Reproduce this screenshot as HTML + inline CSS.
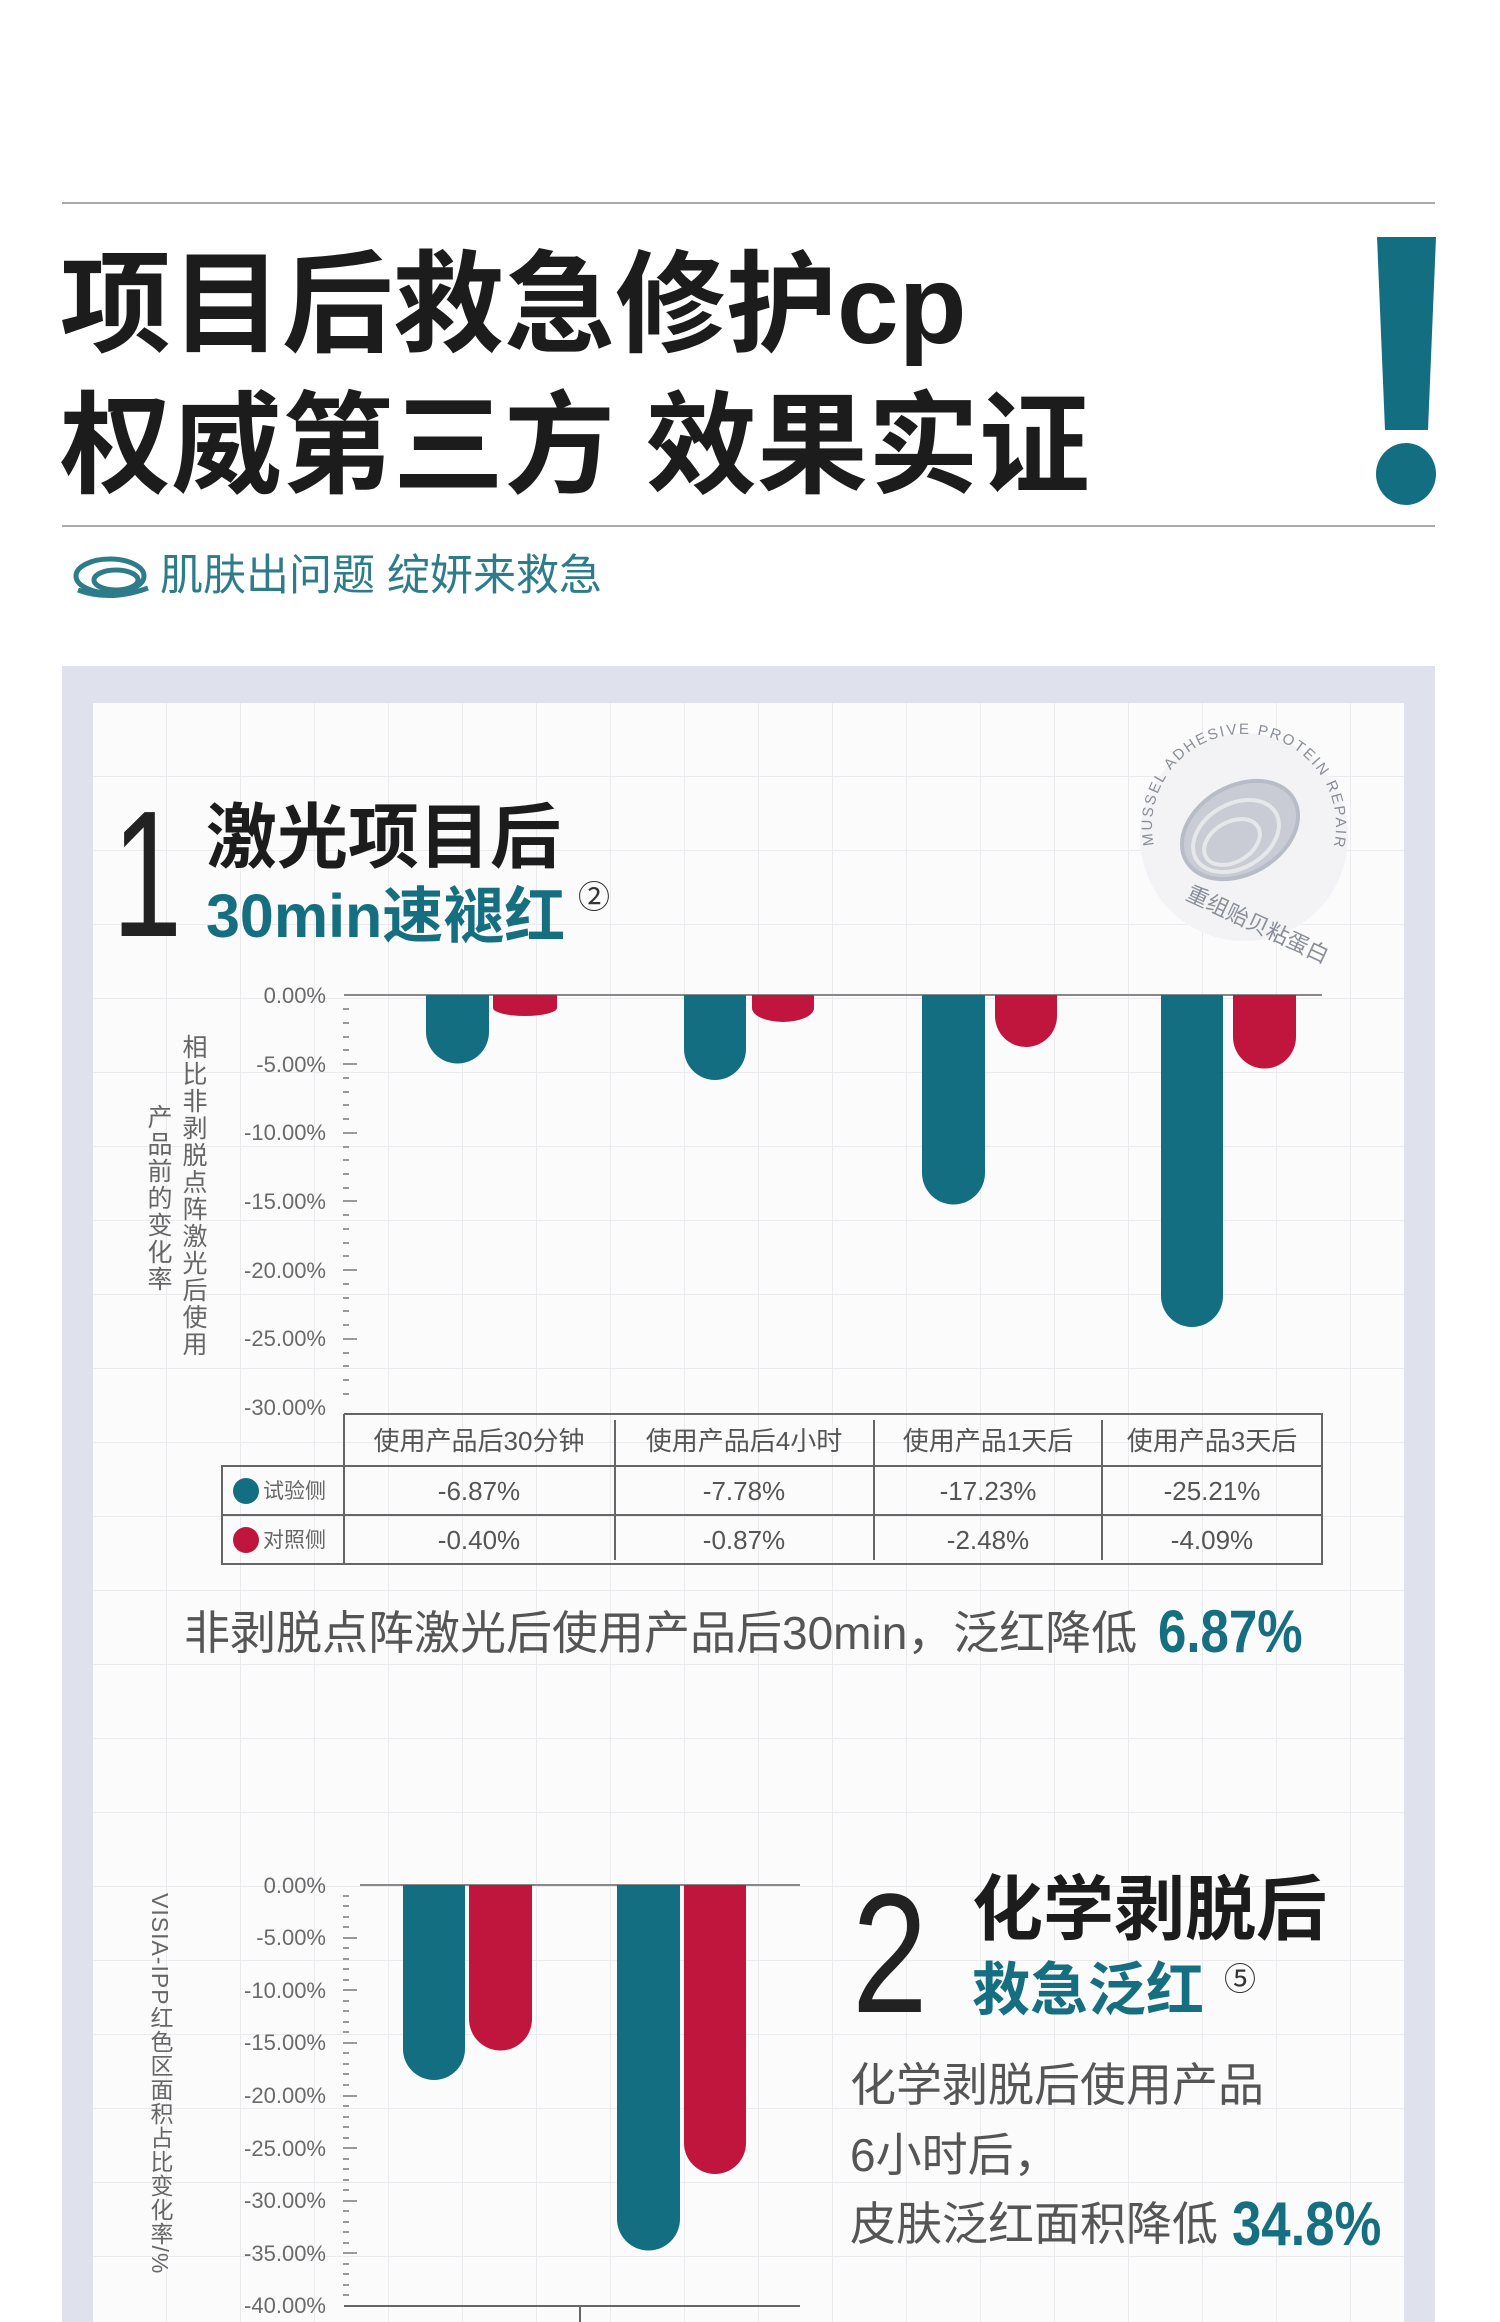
<!DOCTYPE html>
<html><head><meta charset="utf-8"><style>
html,body{margin:0;padding:0;background:#fff}
svg{display:block}
text{font-family:"Liberation Sans","Noto Sans CJK SC",sans-serif}
</style></head><body>
<svg width="1500" height="2322" viewBox="0 0 1500 2322" xmlns="http://www.w3.org/2000/svg">
<defs>
<pattern id="grid" width="74" height="74" patternUnits="userSpaceOnUse" x="93" y="703">
<path d="M74 0V74M0 74H74" stroke="#ebebef" stroke-width="2" fill="none"/>
</pattern>
<path id="arc" d="M1154 845 A92 92 0 1 1 1334 845"/>
</defs>
<rect width="1500" height="2322" fill="#fff"/>
<line x1="62" y1="203" x2="1435" y2="203" stroke="#aaa" stroke-width="2"/>
<line x1="62" y1="526" x2="1435" y2="526" stroke="#aaa" stroke-width="2"/>
<text x="60" y="343" font-size="111" font-weight="700" fill="#1c1c1c">项目后救急修护cp</text>
<text x="60" y="484" font-size="111" font-weight="700" fill="#1c1c1c">权威第三方 效果实证</text>
<path d="M1377 237H1436L1428 430H1385Z" fill="#136e82"/>
<ellipse cx="1406" cy="474" rx="30" ry="31" fill="#136e82"/>
<g fill="none" stroke="#2d7c8a" stroke-width="5">
<ellipse cx="110" cy="576" rx="34" ry="17"/>
<ellipse cx="116" cy="580" rx="22" ry="10"/>
<path d="M78 590 Q110 602 148 588"/>
</g>
<text x="160" y="590" font-size="43" fill="#2d7c8a">肌肤出问题 绽妍来救急</text>

<rect x="62" y="666" width="1373" height="1656" fill="#dfe2ed"/>
<rect x="93" y="703" width="1311" height="1619" fill="#fbfbfc"/>
<rect x="93" y="703" width="1311" height="1619" fill="url(#grid)"/>

<!-- section 1 heading -->
<text x="0" y="0" font-size="180" font-weight="200" fill="#222" transform="translate(112 936) scale(0.7 1)">1</text>
<text x="206" y="862" font-size="71" font-weight="700" fill="#1c1c1c">激光项目后</text>
<text x="206" y="937" font-size="61" font-weight="700" fill="#156f80">30min速褪红</text>
<text x="578" y="908" font-size="32" fill="#333">②</text>
<!-- logo -->
<g>
<circle cx="1244" cy="837" r="104" fill="#f3f3f5"/>
<text font-size="15" fill="#8a8e99" letter-spacing="2"><textPath href="#arc">MUSSEL ADHESIVE PROTEIN REPAIR SOLUTION</textPath></text>
<g fill="none" stroke="#b8bcc6" stroke-width="4">
<ellipse cx="1240" cy="830" rx="62" ry="44" transform="rotate(-30 1240 830)" fill="#c9ccd4"/>
<ellipse cx="1236" cy="836" rx="46" ry="32" transform="rotate(-30 1236 836)" stroke="#e6e7ea"/>
<ellipse cx="1232" cy="842" rx="30" ry="20" transform="rotate(-30 1232 842)" stroke="#e6e7ea"/>
</g>
<text x="1180" y="920" font-size="22" fill="#8a8e99" transform="rotate(25 1230 920)">重组贻贝粘蛋白</text>
</g>

<!-- chart 1 -->
<g font-size="22" fill="#6a6a6a" text-anchor="end">
<text x="326" y="1003">0.00%</text>
<text x="326" y="1072">-5.00%</text>
<text x="326" y="1140">-10.00%</text>
<text x="326" y="1209">-15.00%</text>
<text x="326" y="1278">-20.00%</text>
<text x="326" y="1346">-25.00%</text>
<text x="326" y="1415">-30.00%</text>
</g>
<g stroke="#999" stroke-width="2">
<path d="M343 1009h6M343 1023h6M343 1037h6M343 1050h6M343 1064h14M343 1078h6M343 1092h6M343 1105h6M343 1119h6M343 1133h14M343 1147h6M343 1160h6M343 1174h6M343 1188h6M343 1201h14M343 1215h6M343 1229h6M343 1243h6M343 1256h6M343 1270h14M343 1284h6M343 1298h6M343 1311h6M343 1325h6M343 1339h14M343 1353h6M343 1366h6M343 1380h6M343 1394h6"/>
</g>
<line x1="344" y1="995" x2="1322" y2="995" stroke="#888" stroke-width="2"/>
<g fill="#136e82">
<path d="M426 995H489V1032A31.5 31.5 0 0 1 426 1032Z"/>
<path d="M684 995H746V1049A31 31 0 0 1 684 1049Z"/>
<path d="M922 995H985V1173A31.5 31.5 0 0 1 922 1173Z"/>
<path d="M1161 995H1223V1296A31 31 0 0 1 1161 1296Z"/>
</g>
<g fill="#c0163e">
<path d="M493 995H557V1008A32 8 0 0 1 493 1008Z"/>
<path d="M752 995H814V1008A31 14 0 0 1 752 1008Z"/>
<path d="M995 995H1057V1016A31 31 0 0 1 995 1016Z"/>
<path d="M1233 995H1296V1037A31.5 31.5 0 0 1 1233 1037Z"/>
</g>
<g font-size="25" fill="#666" writing-mode="tb" letter-spacing="2">
<text x="193" y="1034">相比非剥脱点阵激光后使用</text>
<text x="158" y="1104">产品前的变化率</text>
</g>
<!-- table 1 -->
<g stroke="#666" stroke-width="2" fill="none">
<path d="M344 1414H1322V1564H222V1466H344V1414"/>
<path d="M222 1466H1322M222 1515H1322"/>
<path d="M344 1466V1564M615 1420V1560M874 1420V1560M1102 1420V1560"/>
</g>
<g font-size="26" fill="#555" text-anchor="middle">
<text x="479" y="1450">使用产品后30分钟</text>
<text x="744" y="1450">使用产品后4小时</text>
<text x="988" y="1450">使用产品1天后</text>
<text x="1212" y="1450">使用产品3天后</text>
<text x="479" y="1500">-6.87%</text>
<text x="744" y="1500">-7.78%</text>
<text x="988" y="1500">-17.23%</text>
<text x="1212" y="1500">-25.21%</text>
<text x="479" y="1549">-0.40%</text>
<text x="744" y="1549">-0.87%</text>
<text x="988" y="1549">-2.48%</text>
<text x="1212" y="1549">-4.09%</text>
</g>
<circle cx="246" cy="1491" r="13" fill="#136e82"/>
<circle cx="246" cy="1540" r="13" fill="#c0163e"/>
<text x="263" y="1498" font-size="21" fill="#666">试验侧</text>
<text x="263" y="1547" font-size="21" fill="#666">对照侧</text>
<text x="184" y="1649" font-size="46" fill="#555">非剥脱点阵激光后使用产品后30min，泛红降低</text>
<text x="0" y="0" font-size="60" font-weight="700" fill="#156f80" transform="translate(1158 1652) scale(0.85 1)">6.87%</text>

<!-- chart 2 -->
<g font-size="22" fill="#6a6a6a" text-anchor="end">
<text x="326" y="1893">0.00%</text>
<text x="326" y="1945">-5.00%</text>
<text x="326" y="1998">-10.00%</text>
<text x="326" y="2050">-15.00%</text>
<text x="326" y="2103">-20.00%</text>
<text x="326" y="2156">-25.00%</text>
<text x="326" y="2208">-30.00%</text>
<text x="326" y="2261">-35.00%</text>
<text x="326" y="2313">-40.00%</text>
</g>
<g stroke="#999" stroke-width="2">
<path d="M343 1896h6M343 1906h6M343 1917h6M343 1927h6M343 1938h14M343 1948h6M343 1959h6M343 1969h6M343 1980h6M343 1990h14M343 2001h6M343 2011h6M343 2022h6M343 2032h6M343 2043h14M343 2053h6M343 2064h6M343 2074h6M343 2085h6M343 2096h14M343 2106h6M343 2117h6M343 2127h6M343 2138h6M343 2148h14M343 2159h6M343 2169h6M343 2180h6M343 2190h6M343 2201h14M343 2211h6M343 2222h6M343 2232h6M343 2243h6M343 2253h14M343 2264h6M343 2274h6M343 2285h6M343 2295h6"/>
</g>
<line x1="360" y1="1885" x2="800" y2="1885" stroke="#888" stroke-width="2"/>
<line x1="344" y1="2306" x2="800" y2="2306" stroke="#666" stroke-width="2"/>
<line x1="580" y1="2306" x2="580" y2="2322" stroke="#666" stroke-width="2"/>
<g fill="#136e82">
<path d="M403 1885H465V2049A31 31 0 0 1 403 2049Z"/>
<path d="M617 1885H680V2219A31.5 31.5 0 0 1 617 2219Z"/>
</g>
<g fill="#c0163e">
<path d="M469 1885H532V2019A31.5 31.5 0 0 1 469 2019Z"/>
<path d="M684 1885H746V2143A31 31 0 0 1 684 2143Z"/>
</g>
<text x="160" y="1893" font-size="23" fill="#666" writing-mode="tb" letter-spacing="1">VISIA-IPP红色区面积占比变化率/%</text>
<text x="0" y="0" font-size="170" font-weight="200" fill="#222" transform="translate(852 2012) scale(0.8 1)">2</text>
<text x="972" y="1934" font-size="71" font-weight="700" fill="#1c1c1c">化学剥脱后</text>
<text x="972" y="2010" font-size="58" font-weight="700" fill="#156f80">救急泛红</text>
<text x="1224" y="1990" font-size="32" fill="#333">⑤</text>
<g font-size="46" fill="#555">
<text x="850" y="2101">化学剥脱后使用产品</text>
<text x="850" y="2171">6小时后，</text>
<text x="850" y="2240">皮肤泛红面积降低</text>
</g>
<text x="0" y="0" font-size="62" font-weight="700" fill="#156f80" transform="translate(1232 2245) scale(0.85 1)">34.8%</text>
</svg>
</body></html>
